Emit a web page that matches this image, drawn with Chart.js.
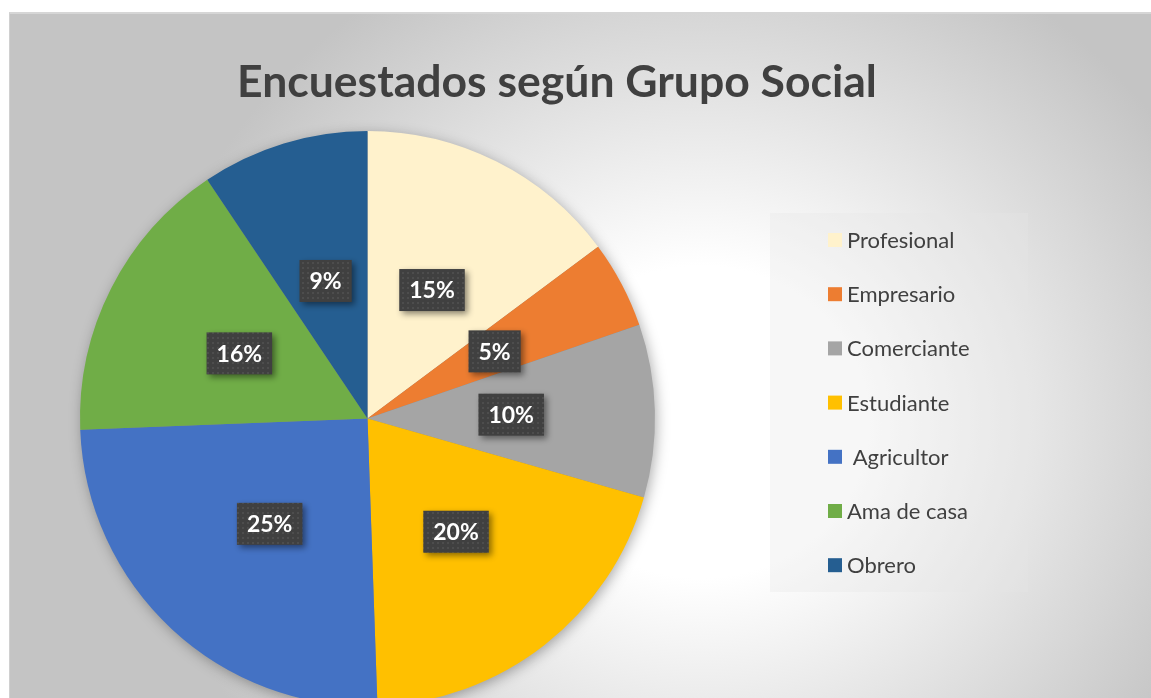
<!DOCTYPE html>
<html>
<head>
<meta charset="utf-8">
<script src="https://cdn.jsdelivr.net/npm/chart.js@4.4.1/dist/chart.umd.min.js"></script>
<style>
  html, body { margin: 0; padding: 0; width: 1151px; height: 698px; overflow: hidden; background: #fff; }
  #panel {
    position: absolute; left: 9px; top: 12px; width: 1142px; height: 686px;
    border-top: 2px solid #d6d6d6; border-left: 1px solid #d0d0d0;
    background: radial-gradient(ellipse 560px 520px at 691px 408px, #ffffff 30%, #c4c4c4 100%);
  }
  #pieChart { position: absolute; left: 0; top: 0; }
</style>
</head>
<body>
<div id="panel"></div>
<canvas id="pieChart" width="1151" height="740"></canvas>
<script>
const chartTitle = 'Encuestados según Grupo Social'
const categories = ['Profesional', 'Empresario', 'Comerciante', 'Estudiante', ' Agricultor', 'Ama de casa', 'Obrero']
// shares (percent)
const values = [14.8, 4.9, 9.7, 20.0, 24.9, 16.2, 9.4]
const sliceColors = ['#FFF2CC', '#ED7D31', '#A5A5A5', '#FFC000', '#4472C4', '#70AD47', '#255E91']

const FONT = 'Lato, "Open Sans", sans-serif'

// dark dotted fill for the value boxes
function dotPattern(ctx) {
  const tile = document.createElement('canvas')
  tile.width = 5
  tile.height = 5
  const t = tile.getContext('2d')
  t.fillStyle = '#404040'
  t.fillRect(0, 0, 5, 5)
  t.fillStyle = '#4d4d4d'
  t.fillRect(2, 2, 2, 2)
  return ctx.createPattern(tile, 'repeat')
}

// soft shadow behind the whole pie
const pieShadow = {
  id: 'pieShadow',
  beforeDatasetsDraw(chart) {
    const arc = chart.getDatasetMeta(0).data[0]
    if (!arc) return
    const ctx = chart.ctx
    ctx.save()
    ctx.shadowColor = 'rgba(0,0,0,0.35)'
    ctx.shadowBlur = 14
    ctx.shadowOffsetX = 2
    ctx.shadowOffsetY = 3
    ctx.fillStyle = '#888'
    ctx.beginPath()
    ctx.arc(arc.x, arc.y, arc.outerRadius - 1, 0, Math.PI * 2)
    ctx.fill()
    ctx.restore()
  }
}

const valueLabels = {
  id: 'valueLabels',
  afterDatasetsDraw(chart) {
    const ctx = chart.ctx
    const total = values.reduce((a, b) => a + b, 0)
    const fill = dotPattern(ctx)
    ctx.save()
    ctx.font = 'bold 23px ' + FONT
    ctx.textAlign = 'center'
    ctx.textBaseline = 'middle'
    chart.getDatasetMeta(0).data.forEach((arc, i) => {
      const p = arc.getCenterPoint()
      const text = Math.round(values[i] / total * 100) + '%'
      const w = ctx.measureText(text).width + 20
      const h = 42
      ctx.save()
      ctx.shadowColor = 'rgba(0,0,0,0.45)'
      ctx.shadowBlur = 6
      ctx.shadowOffsetX = 3
      ctx.shadowOffsetY = 3
      ctx.fillStyle = fill
      ctx.fillRect(p.x - w / 2, p.y - h / 2, w, h)
      ctx.restore()
      ctx.fillStyle = '#ffffff'
      ctx.fillText(text, p.x, p.y + 1)
    })
    ctx.restore()
  }
}

const titleAndLegend = {
  id: 'titleAndLegend',
  afterDraw(chart) {
    const ctx = chart.ctx
    ctx.save()
    ctx.fillStyle = '#404040'
    ctx.font = 'bold 44.5px ' + FONT
    ctx.textAlign = 'center'
    ctx.textBaseline = 'middle'
    ctx.fillText(chartTitle, 557, 83)

    // legend panel
    ctx.fillStyle = 'rgba(230,230,230,0.32)'
    ctx.fillRect(770, 213, 258, 379)
    ctx.font = '22px ' + FONT
    ctx.textAlign = 'left'
    categories.forEach((name, i) => {
      const y = 240 + i * 54.2
      ctx.fillStyle = sliceColors[i]
      ctx.fillRect(828, y - 7, 14, 14)
      ctx.fillStyle = '#404040'
      ctx.fillText(name, 847, y + 1)
    })
    ctx.restore()
  }
}

document.addEventListener('DOMContentLoaded', () => {
  const ctx = document.getElementById('pieChart').getContext('2d')
  new Chart(ctx, {
    type: 'pie',
    data: {
      labels: categories,
      datasets: [{
        data: values,
        backgroundColor: sliceColors,
        borderWidth: 0,
        hoverOffset: 0
      }]
    },
    options: {
      responsive: false,
      animation: false,
      events: [],
      layout: { padding: { left: 80, right: 496, top: 131, bottom: 34 } },
      plugins: {
        legend: { display: false },
        title: { display: false },
        tooltip: { enabled: false }
      }
    },
    plugins: [pieShadow, valueLabels, titleAndLegend]
  })
})
</script>
</body>
</html>
